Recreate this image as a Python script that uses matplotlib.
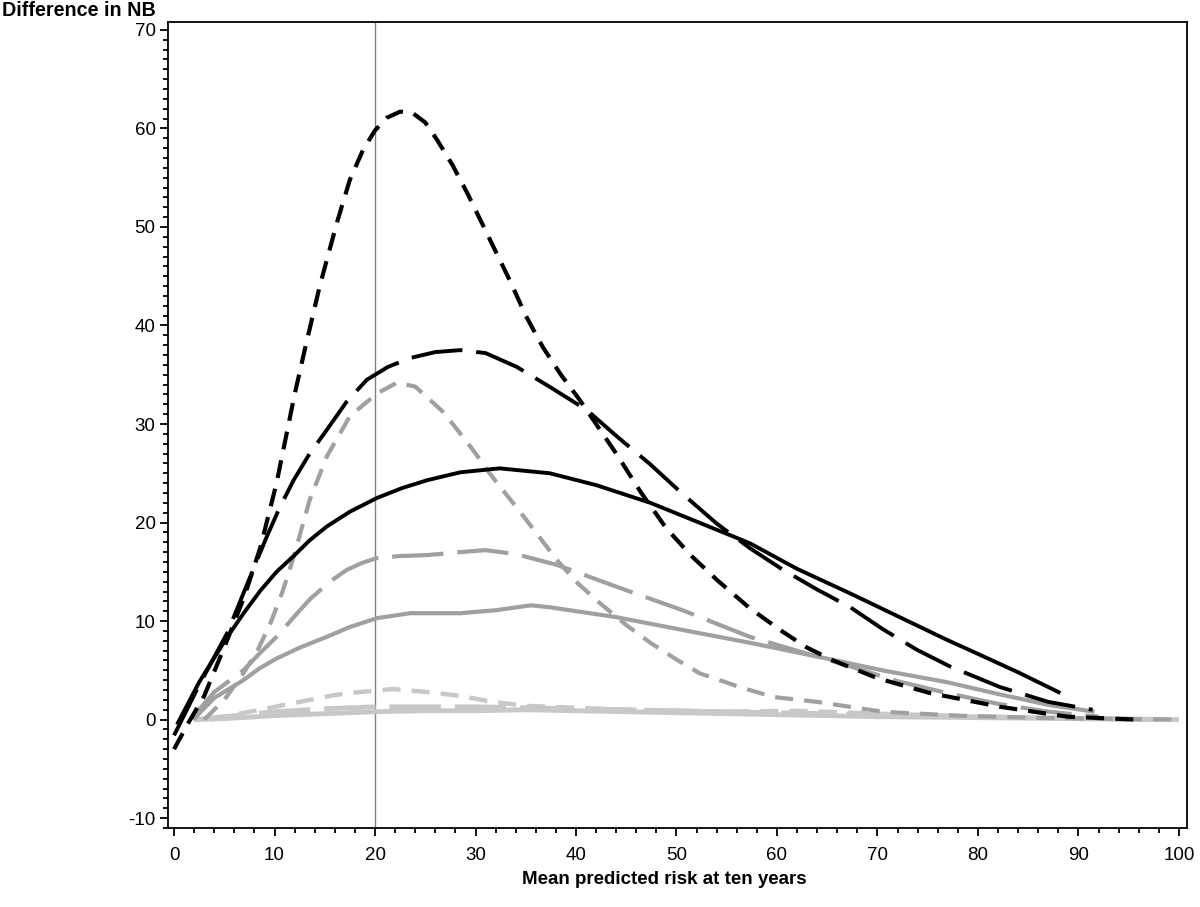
import matplotlib
matplotlib.use("Agg")
import matplotlib.pyplot as plt
from matplotlib.ticker import MultipleLocator

plt.rcParams['font.family'] = ['Liberation Sans', 'DejaVu Sans']
plt.rcParams['lines.scale_dashes'] = False
plt.rcParams['axes.unicode_minus'] = False

# --- data (x = mean predicted risk, y = difference in NB) ---
# black, short dash
x_blk_short = [0, 1.5, 3, 5.3, 7, 8.6, 10.2, 12, 13, 14.5, 16.2, 17.5, 18.8, 20, 21.2, 22.5,
               23.7, 25, 26.2, 27.7, 29.2, 31.3, 33.4, 35, 36.7, 38.5, 40.4, 42.2, 44, 46.5,
               49, 51.5, 54, 57.3, 60.6, 63, 65.6, 70, 75.2, 82.2, 88.9, 95.8]
y_blk_short = [-3, -0.2, 2.4, 8.1, 12.5, 17.5, 24, 33, 37.5, 44, 50.4, 54.8, 57.8, 59.8, 61.1, 61.7,
               61.6, 60.6, 58.8, 56.3, 53.4, 49, 44.6, 41, 37.8, 35, 32.4, 29.7, 27, 23,
               19.4, 16.6, 14.2, 11.3, 8.9, 7.3, 6.0, 4.2, 2.7, 1.3, 0.3, 0]
# black, long dash
x_blk_long = [0, 2.5, 5.3, 7.3, 9.2, 10.5, 11.9, 13.5, 15.2, 17.2, 19.2, 21.3, 23.5, 26, 28.5,
              31, 34.1, 37.5, 41.1, 44, 47.4, 50.5, 54, 57.3, 60.6, 64, 67.3, 70.5, 73.9,
              77.2, 82.2, 87, 91.4]
y_blk_long = [-1.6, 3.5, 8.8, 13.8, 18.5, 21.5, 24.3, 27, 29.4, 32.3, 34.5, 35.8, 36.7, 37.3, 37.5,
              37.2, 35.8, 33.7, 31.4, 28.8, 25.9, 23, 19.9, 17.4, 15.2, 13.2, 11.4, 9.2, 7.1,
              5.4, 3.3, 1.8, 1.0]
# black, solid
x_blk_solid = [0.3, 2.5, 5.3, 7, 8.6, 10.2, 11.9, 13.5, 15.2, 17.5, 20.2, 22.7, 25.2, 28.5, 32.4,
               37.4, 42, 47.4, 52, 57.3, 62, 67.3, 72, 76.9, 79.5, 84, 88.2]
y_blk_solid = [-0.5, 3.8, 8.4, 10.9, 13.1, 15.0, 16.6, 18.2, 19.6, 21.1, 22.5, 23.5, 24.3, 25.1, 25.5,
               25.0, 23.8, 22.0, 20.1, 17.9, 15.3, 12.8, 10.5, 8.1, 6.9, 4.8, 2.7]
# mid grey, short dash
x_gry_short = [3, 5, 6.9, 8.3, 9.6, 10.8, 11.9, 13.5, 15.2, 17.5, 20.2, 22.2, 24, 25.2, 26.8,
               28.2, 29.8, 31.4, 34.5, 38.1, 40, 42.4, 45, 47.4, 50, 52.3, 56.3, 59.6, 64,
               70.5, 78, 85, 92, 100]
y_gry_short = [0, 2, 4.7, 7.0, 9.8, 13.0, 16.5, 22.3, 26.7, 30.8, 33.1, 34.2, 33.8, 32.7, 31.2,
               29.4, 27.3, 25, 21, 16.2, 14, 11.8, 9.6, 7.8, 6.1, 4.7, 3.3, 2.3, 1.8,
               0.8, 0.4, 0.2, 0.1, 0]
# mid grey, long dash
x_gry_long = [1.9, 4, 6.9, 8.5, 10.2, 12, 13.5, 15.5, 17.2, 18.7, 20.2, 22.5, 25.2, 28.5, 31, 34,
              38.1, 44, 50.6, 57.3, 62.3, 67.3, 72, 76.9, 82, 87, 92]
y_gry_long = [0.3, 2.8, 5, 6.7, 8.4, 10.5, 12.2, 14.0, 15.2, 15.9, 16.4, 16.6, 16.7, 17.0, 17.2, 16.8,
              15.7, 13.5, 11.1, 8.4, 6.9, 5.4, 3.9, 2.7, 1.6, 0.8, 0.3]
# mid grey, solid
x_gry_solid = [1.9, 4, 6.9, 8.5, 10.2, 12.5, 15.2, 17.5, 20.2, 23.5, 28.5, 32, 35.5, 37.4, 44,
               50.6, 57.3, 64, 70.5, 76.9, 82, 87, 91.6]
y_gry_solid = [0, 2.2, 4, 5.2, 6.2, 7.3, 8.4, 9.4, 10.3, 10.8, 10.8, 11.1, 11.6, 11.4, 10.4,
               9.1, 7.8, 6.4, 5.0, 3.8, 2.6, 1.5, 0.8]
# light grey, short dash
x_lgt_short = [3.6, 6, 8.6, 11, 13.5, 16, 18.5, 21.8, 25.2, 28.5, 31.7, 35, 40, 45, 50, 55,
               62, 70, 80, 90, 97]
y_lgt_short = [0, 0.5, 1.0, 1.5, 2.0, 2.5, 2.8, 3.1, 2.8, 2.4, 1.8, 1.4, 1.2, 1.0, 0.9, 0.8,
               0.9, 0.6, 0.3, 0.1, 0]
# light grey, long dash
x_lgt_long = [2, 5, 10, 15, 20, 25, 30, 35, 40, 50, 60, 70, 80, 90, 98]
y_lgt_long = [0, 0.3, 0.8, 1.1, 1.3, 1.3, 1.3, 1.2, 1.1, 0.9, 0.7, 0.5, 0.3, 0.1, 0]
# light grey, solid
x_lgt_solid = [2, 5, 10, 15, 20, 25, 30, 35, 40, 50, 60, 70, 80, 90, 100]
y_lgt_solid = [0, 0.1, 0.4, 0.6, 0.8, 0.9, 0.9, 1.0, 0.9, 0.7, 0.5, 0.3, 0.2, 0.1, 0]

threshold = 20

BLACK, GREY, LIGHT = '#000000', '#a0a0a0', '#c8c8c8'
SHORT = (0, (13, 8))
LONG = (0, (37, 10))

fig = plt.figure(figsize=(12, 9.07), dpi=100)
ax = fig.add_axes([168 / 1200, 1 - 828 / 907, (1187 - 168) / 1200, (828 - 22) / 907])

ax.axvline(threshold, color='#808080', lw=1.0, zorder=1)

curves = [
    (x_lgt_solid, y_lgt_solid, LIGHT, '-', 3.5),
    (x_lgt_long, y_lgt_long, LIGHT, LONG, 3.5),
    (x_lgt_short, y_lgt_short, LIGHT, SHORT, 3.2),
    (x_gry_solid, y_gry_solid, GREY, '-', 3.0),
    (x_gry_long, y_gry_long, GREY, LONG, 3.0),
    (x_gry_short, y_gry_short, GREY, SHORT, 3.0),
    (x_blk_solid, y_blk_solid, BLACK, '-', 2.8),
    (x_blk_long, y_blk_long, BLACK, LONG, 2.8),
    (x_blk_short, y_blk_short, BLACK, SHORT, 3.0),
]
for xs, ys, col, ls, lw in curves:
    ax.plot(xs, ys, color=col, linestyle=ls, lw=lw, solid_capstyle='butt',
            dash_capstyle='butt', solid_joinstyle='round', dash_joinstyle='round', zorder=2)

ax.set_xlim(-0.6, 100.8)
ax.set_ylim(-11.0, 70.8)
ax.xaxis.set_major_locator(MultipleLocator(10))
ax.xaxis.set_minor_locator(MultipleLocator(2))
ax.yaxis.set_major_locator(MultipleLocator(10))
ax.yaxis.set_minor_locator(MultipleLocator(1))

for sp in ax.spines.values():
    sp.set_linewidth(1.3)
ax.tick_params(which='major', direction='out', length=5.5, width=1.3, labelsize=13.5, pad=8)
ax.tick_params(which='minor', direction='out', length=3.5, width=1.3)
ax.tick_params(axis='y', which='major', pad=3.5)

fig.text(0.002, 1 - 16 / 907, 'Difference in NB', fontsize=14.2, fontweight='bold',
         ha='left', va='baseline')
fig.text(664 / 1200, 1 - 879 / 907, 'Mean predicted risk at ten years', fontsize=13.5,
         fontweight='bold', ha='center', va='center')

fig.savefig('out.png', dpi=100)
